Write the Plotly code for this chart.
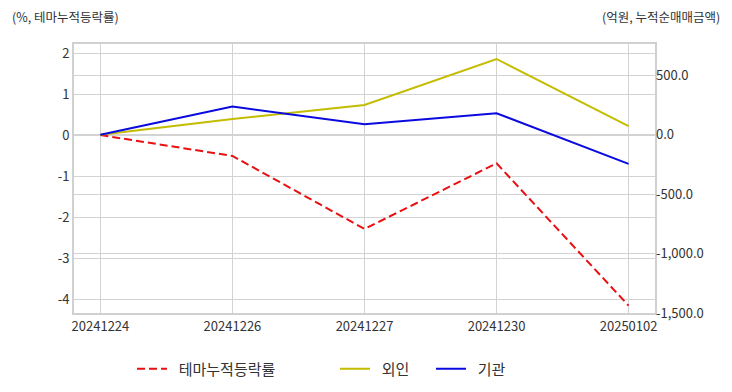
import plotly.graph_objects as go

dates = ["20241224", "20241226", "20241227", "20241230", "20250102"]
theme_rate = [0.0, -0.51, -2.29, -0.69, -4.16]
foreign = [0.0, 134, 252, 639, 74]
institution = [0.0, 238, 90, 182, -244]

left_ticks = [-4, -3, -2, -1, 0, 1, 2]
right_ticks = [-1500, -1000, -500, 0, 500]

FONT = "Noto Sans CJK KR, Noto Sans, sans-serif"
TXT = "#333333"
GRID = "#d3d3d3"
GAP = "\u00a0\u00a0"

# the page body has an 8px margin, so work in page coords minus 8
OFF = 8
W, H = 732 - OFF, 392 - OFF
PL, PT = 74 - OFF, 44 - OFF
pw, ph = 581, 269
PR, PB = W - PL - pw, H - PT - ph


def px_x(x):
    return (x - OFF - PL) / pw


def px_y(y):
    return 1 - (y - OFF - PT) / ph


fig = go.Figure()
fig.add_trace(go.Scatter(x=dates, y=theme_rate, name=GAP + "테마누적등락률", mode="lines",
                         line=dict(color="#e81010", width=2, dash="8px,4px"), yaxis="y",
                         legend="legend"))
fig.add_trace(go.Scatter(x=dates, y=foreign, name=GAP + "외인", mode="lines",
                         line=dict(color="#c4bc00", width=2), yaxis="y2",
                         legend="legend2"))
fig.add_trace(go.Scatter(x=dates, y=institution, name=GAP + "기관", mode="lines",
                         line=dict(color="#0a0ae0", width=2), yaxis="y2",
                         legend="legend2"))

leg_y = px_y(369)

fig.update_layout(
    width=W, height=H,
    margin=dict(l=PL, r=PR, t=PT, b=PB, autoexpand=False),
    paper_bgcolor="white", plot_bgcolor="white",
    font=dict(family=FONT, size=13, color=TXT),
    showlegend=True,
    legend=dict(orientation="h", x=px_x(132), xanchor="left",
                y=leg_y, yanchor="middle", font=dict(size=15, color=TXT),
                bgcolor="rgba(0,0,0,0)"),
    legend2=dict(orientation="h", x=px_x(335), xanchor="left",
                 y=leg_y, yanchor="middle", font=dict(size=15, color=TXT),
                 entrywidth=51, bgcolor="rgba(0,0,0,0)"),
    xaxis=dict(type="category", range=[-0.2, 4.2], showgrid=True, gridcolor=GRID,
               gridwidth=1, showline=True, linecolor="#d0d0d0", linewidth=2, mirror=True,
               ticks="", tickfont=dict(size=13, color=TXT), zeroline=False,
               automargin=False),
    yaxis=dict(range=[-4.34, 2.22], tickvals=left_ticks,
               ticktext=[str(v) for v in left_ticks],
               showgrid=True, gridcolor=GRID, gridwidth=1, zeroline=False,
               showline=True, linecolor="#d0d0d0", linewidth=2, mirror=True,
               ticks="", tickfont=dict(size=13, color=TXT), automargin=False),
    yaxis2=dict(range=[-1500, 765], tickvals=right_ticks,
                ticktext=[f"{v:,.1f}" for v in right_ticks],
                overlaying="y", side="right",
                showgrid=True, gridcolor=GRID, gridwidth=1, zeroline=False,
                showline=False, ticks="", tickfont=dict(size=13, color=TXT),
                automargin=False),
)

fig.add_annotation(text="(%, 테마누적등락률)", xref="paper", yref="paper",
                   x=px_x(10), y=px_y(16), xanchor="left", yanchor="middle",
                   showarrow=False, font=dict(size=12.5, color=TXT))
fig.add_annotation(text="(억원, 누적순매매금액)", xref="paper", yref="paper",
                   x=px_x(722), y=px_y(16), xanchor="right", yanchor="middle",
                   showarrow=False, font=dict(size=12.5, color=TXT))

fig.write_html("out.html")
